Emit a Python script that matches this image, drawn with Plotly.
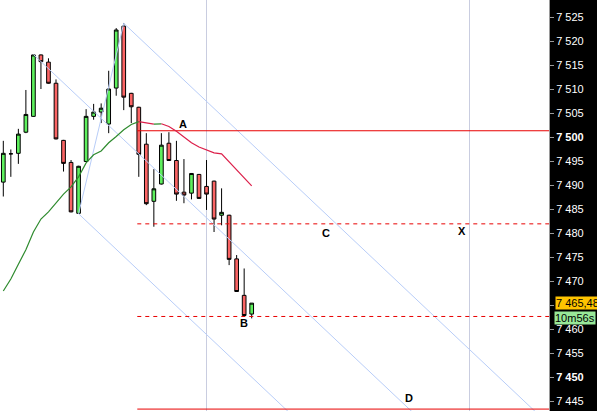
import plotly.graph_objects as go

# ---- data ----
bar_index = list(range(34))
open_ = [7490.7, 7496.6, 7496.7, 7501.1, 7504.4, 7517.2, 7515.7, 7511.3, 7499.4, 7494.8,
         7484.2, 7495.0, 7504.4, 7505.3, 7502.8, 7510.3, 7523.2, 7509.2, 7506.3, 7498.6,
         7486.7, 7490.3, 7498.8, 7495.2, 7488.6, 7488.4, 7492.3, 7489.8, 7490.9, 7483.8,
         7483.8, 7474.7, 7467.1, 7463.2]
close_ = [7496.7, 7496.6, 7500.7, 7504.8, 7517.2, 7515.8, 7511.3, 7499.7, 7494.6, 7484.5,
          7494.0, 7504.4, 7505.3, 7506.1, 7510.1, 7522.4, 7508.4, 7506.4, 7496.5, 7486.2,
          7489.3, 7498.4, 7495.2, 7488.2, 7488.0, 7492.5, 7487.3, 7488.2, 7483.0, 7484.4,
          7474.6, 7467.9, 7462.9, 7465.48]
high_ = [7499.3, 7497.5, 7501.8, 7509.9, 7517.3, 7517.3, 7516.5, 7512.1, 7499.5, 7495.3,
         7494.1, 7505.9, 7507.0, 7507.1, 7513.9, 7522.8, 7523.8, 7509.3, 7506.4, 7500.9,
         7493.4, 7500.9, 7501.1, 7499.3, 7495.5, 7492.6, 7492.4, 7495.3, 7491.0, 7489.4,
         7483.9, 7475.5, 7472.7, 7465.5]
low_ = [7487.7, 7491.8, 7494.5, 7500.9, 7504.3, 7510.1, 7511.2, 7499.6, 7492.9, 7484.4,
        7484.1, 7494.9, 7503.7, 7503.0, 7500.9, 7508.7, 7505.7, 7503.0, 7491.8, 7485.9,
        7481.4, 7490.2, 7495.1, 7486.8, 7486.3, 7487.1, 7487.2, 7484.9, 7480.3, 7481.7,
        7473.4, 7467.8, 7462.8, 7462.3]
ma = [7468.0, 7470.5, 7473.6, 7476.6, 7480.3, 7483.0, 7484.5, 7486.4, 7488.2, 7489.7,
      7491.8, 7494.7, 7496.4, 7497.2, 7498.9, 7500.2, 7501.6, 7502.7, 7503.3, 7503.0,
      7502.8, 7502.85, 7502.3, 7501.3, 7500.1, 7498.9, 7498.0, 7497.4, 7496.8, 7496.6,
      7494.9, 7493.2, 7491.6, 7489.9]

# channel: anchor bars and slope (price per bar)
channel_slope = -1.48
channel_anchors = [(16, "high"), (4, "high"), (10, "low")]
handle = [(10, "low"), (16, "high")]

# horizontal levels
level_start = 17.8
level_A = 7501.4
level_C = 7482.0
level_B = 7462.7
level_D = 7443.4

labels_text = ["A", "C", "X", "B", "D"]
labels_x = [23.9, 42.9, 60.9, 32.0, 53.9]
labels_y = [7502.8, 7480.1, 7480.5, 7461.4, 7445.7]

day_lines = [27, 62]
y_ticks = list(range(7445, 7530, 5))
hidden_tick = 7465  # covered by the last-price box
last_price_text = "7 465,48"
timer_text = "10m56s"

X_RANGE = [-0.44, 72.5]
Y_RANGE = [7443.0, 7528.65]

# ---- figure ----
fig = go.Figure()

def price_at(i, kind):
    return high_[i] if kind == "high" else low_[i]

# channel lines
far_x = 80
for i, kind in channel_anchors:
    y0 = price_at(i, kind)
    fig.add_trace(go.Scatter(x=[i, far_x], y=[y0, y0 + channel_slope * (far_x - i)],
                             mode="lines", line=dict(color="#b8cdf8", width=1),
                             hoverinfo="skip", showlegend=False))
fig.add_trace(go.Scatter(x=[handle[0][0], handle[1][0]],
                         y=[price_at(*handle[0]), price_at(*handle[1])],
                         mode="lines", line=dict(color="#b8cdf8", width=1),
                         hoverinfo="skip", showlegend=False))

# levels
for lvl, dash in [(level_A, "solid"), (level_C, "4px,4px"), (level_B, "4px,4px"), (level_D, "solid")]:
    fig.add_trace(go.Scatter(x=[level_start, far_x], y=[lvl, lvl], mode="lines",
                             line=dict(color="#e80000", width=1, dash=dash),
                             hoverinfo="skip", showlegend=False))

# moving average coloured by slope
seg_start = 0
for k in range(1, len(ma)):
    rising = ma[k] >= ma[k - 1]
    end_run = (k == len(ma) - 1) or ((ma[k + 1] >= ma[k]) != rising)
    if end_run:
        fig.add_trace(go.Scatter(x=bar_index[seg_start:k + 1], y=ma[seg_start:k + 1],
                                 mode="lines",
                                 line=dict(color="#2e8b2e" if rising else "#dc1f4a", width=1.2),
                                 hoverinfo="skip", showlegend=False))
        seg_start = k

# candles
fig.add_trace(go.Candlestick(
    x=bar_index, open=open_, high=high_, low=low_, close=close_,
    increasing=dict(fillcolor="#5ef05e", line=dict(color="black", width=1)),
    decreasing=dict(fillcolor="#fa6464", line=dict(color="black", width=1)),
    whiskerwidth=0, showlegend=False, hoverinfo="skip"))

for t, x, y in zip(labels_text, labels_x, labels_y):
    fig.add_annotation(x=x, y=y, text="<b>%s</b>" % t, showarrow=False,
                       font=dict(family="Arial, Liberation Sans", size=11, color="black"))

# price / timer boxes on the axis
fig.add_annotation(xref="paper", yref="y", x=555 / 549, y=close_[-1], xanchor="left",
                   yanchor="middle", text=last_price_text, showarrow=False,
                   bgcolor="#ffc400", borderpad=0,
                   font=dict(family="Arial, Liberation Sans", size=11, color="black"))
fig.add_annotation(xref="paper", yref="y", x=554 / 549, y=close_[-1], yshift=-15,
                   xanchor="left", yanchor="middle", text=timer_text, showarrow=False,
                   bgcolor="#98e898", borderpad=0,
                   font=dict(family="Arial, Liberation Sans", size=11, color="black"))

def fmt(v):
    if v == hidden_tick:
        return ""
    s = "{:,}".format(v).replace(",", " ")
    return "<b>%s</b>" % s if v % 50 == 0 else s

fig.update_layout(
    width=597, height=411,
    margin=dict(l=0, r=48, t=0, b=0),
    paper_bgcolor="black", plot_bgcolor="white",
    showlegend=False,
    xaxis=dict(range=X_RANGE, tickvals=day_lines, showgrid=True, gridcolor="#c9cde0",
               gridwidth=1, showticklabels=False, ticks="", zeroline=False,
               showline=False, rangeslider=dict(visible=False), fixedrange=True),
    yaxis=dict(range=Y_RANGE, side="right", tickvals=y_ticks,
               ticktext=[fmt(v) for v in y_ticks], ticks="outside", ticklen=4,
               tickcolor="#9a9a9a", showline=True, linecolor="#9a9a9a", linewidth=1,
               showgrid=False, zeroline=False,
               tickfont=dict(family="Arial, Liberation Sans", size=11, color="white")),
)

fig.write_html("out.html", config={"displayModeBar": False},
               post_script="document.body.style.margin='0';document.body.style.overflow='hidden';")
